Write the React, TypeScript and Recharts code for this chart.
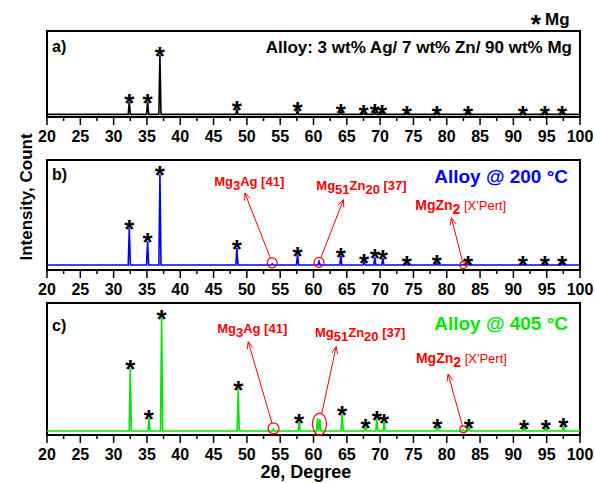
import React from 'react';
import { LineChart, Line, XAxis, YAxis, ReferenceArea, ReferenceDot, ReferenceLine } from 'recharts';

const FONT = '"Liberation Sans", Arial, Helvetica, sans-serif';

// 2θ axis ticks
const majorTicks = [20, 25, 30, 35, 40, 45, 50, 55, 60, 65, 70, 75, 80, 85, 90, 95, 100];
const minorTicks = [22.5, 27.5, 32.5, 37.5, 42.5, 47.5, 52.5, 57.5, 62.5, 67.5, 72.5, 77.5, 82.5, 87.5, 92.5, 97.5];

// a) as-cast alloy, Mg reflections
const mgPeaksA = [32.35, 35.1, 36.95, 48.5, 57.6, 64.1, 67.5, 69.2, 70.3, 74.0, 78.5, 83.2, 91.4, 94.7, 97.3];
const mgIntensityA = [17.8, 17.8, 72, 9.0, 8.7, 6.2, 4.7, 5.5, 4.7, 4.0, 4.0, 4.0, 3.5, 3.5, 4.0];
const baseA = 3;

// b) alloy @ 200 °C
const mgPeaksB = [32.35, 35.1, 36.95, 48.5, 57.6, 64.1, 67.6, 69.2, 70.4, 74.0, 78.5, 83.2, 91.4, 94.7, 97.3];
const mgIntensityB = [38.5, 26, 87, 20, 13.8, 13, 7, 11.4, 10.8, 5.5, 6, 5.5, 5.5, 5.2, 5.7];
const phasePeaksB = [53.8, 60.83, 82.5];
const phaseIntensityB = [5.5, 7.8, 5.0];
const baseB = 4.5;

// c) alloy @ 405 °C
const mgPeaksC = [32.5, 35.3, 37.2, 48.7, 57.85, 64.3, 67.8, 69.5, 70.6, 78.6, 83.3, 91.6, 94.85, 97.5];
const mgIntensityC = [50.5, 12.6, 89, 34.6, 10, 15.7, 6.3, 11.9, 10, 6.3, 5.8, 5, 5, 6.8];
const phasePeaksC = [54.0, 60.6, 60.95, 82.5];
const phaseIntensityC = [4.5, 12.6, 12.0, 3.8];
const baseC = 3;

// secondary phase annotations: [label, text x, text y, marked x, marked y, arrow tip x, arrow tip y]
const annotB = [
  ['Mg3Ag', 50.35, 76, 53.8, 6.5, 49.7, 70],
  ['Mg51Zn20', 67.2, 73, 60.83, 6.9, 64.5, 64],
  ['MgZn2', 82.1, 55, 82.5, 4.5, 80.7, 47.5],
];
const annotC = [
  ['Mg3Ag', 50.8, 77, 54.0, 5.0, 50.2, 70.7],
  ['Mg51Zn20', 67.0, 74.5, 60.9, 8.3, 63.4, 66.9],
  ['MgZn2', 82.2, 54.3, 82.5, 4.3, 80.2, 46.2],
];

type Part = { t: string; sub?: boolean; size?: number; weight?: string };
const labelParts: Record<string, Part[]> = {
  Mg3Ag: [{ t: 'Mg' }, { t: '3', sub: true }, { t: 'Ag [41]' }],
  Mg51Zn20: [{ t: 'Mg' }, { t: '51', sub: true }, { t: 'Zn' }, { t: '20', sub: true }, { t: ' [37]' }],
  MgZn2: [{ t: 'MgZn', size: 14 }, { t: '2', sub: true, size: 14 }, { t: " [X'Pert]", weight: 'normal', size: 13 }],
};
const markSize: Record<string, [number, number]> = { Mg3Ag: [5, 5], Mg51Zn20: [5, 5], MgZn2: [3.5, 3.5] };
const markSizeC: Record<string, [number, number]> = { Mg3Ag: [5.5, 5.5], Mg51Zn20: [7, 11], MgZn2: [3.5, 3.5] };

const HW = 0.16;
const RED = '#ff0000';

function buildTrace(base: number, pos: number[], inten: number[]) {
  const peaks = pos.map((p, i) => ({ p, h: inten[i] })).sort((a, b) => a.p - b.p);
  const pts = [{ x: 20, y: base }];
  peaks.forEach(({ p, h }) => {
    pts.push({ x: p - HW, y: base }, { x: p, y: h }, { x: p + HW, y: base });
  });
  pts.push({ x: 100, y: base });
  return pts;
}

const AxisTick = ({ x, y, payload }: any) => {
  const major = majorTicks.includes(payload.value);
  return (
    <g>
      <line x1={x} x2={x} y1={y} y2={y + (major ? 8 : 4)} stroke="#000" strokeWidth={1.5} />
      {major && (
        <text x={x} y={y + 25} textAnchor="middle" fontFamily={FONT} fontWeight="bold" fontSize={16} fill="#000">
          {payload.value}
        </text>
      )}
    </g>
  );
};

const StarShape = (p: any) => (
  <text x={p.cx} y={p.cy + 10} textAnchor="middle" fontFamily={FONT} fontWeight="bold" fontSize={26} fill="#000">
    *
  </text>
);

const makeLabel = (name: string) => (p: any) => {
  let shift = 0;
  return (
    <text x={p.cx} y={p.cy} textAnchor="middle" fontFamily={FONT} fontWeight="bold" fontSize={13} fill={RED}>
      {labelParts[name].map((part, i) => {
        const target = part.sub ? 4 : 0;
        const dy = target - shift;
        shift = target;
        return (
          <tspan key={i} dy={dy} fontSize={part.size} fontWeight={part.weight}>
            {part.t}
          </tspan>
        );
      })}
    </text>
  );
};

const makeMark = (rx: number, ry: number) => (p: any) => (
  <ellipse cx={p.cx} cy={p.cy} rx={rx} ry={ry} fill="none" stroke={RED} strokeWidth={1.2} />
);

const makeArrow = (rx: number, ry: number) => (p: any) => {
  const { x1, y1, x2, y2 } = p;
  const dx = x2 - x1;
  const dy = y2 - y1;
  const len = Math.hypot(dx, dy) || 1;
  const ux = dx / len;
  const uy = dy / len;
  const t = 1 / Math.sqrt((ux / rx) ** 2 + (uy / ry) ** 2);
  const sx = x1 + ux * t;
  const sy = y1 + uy * t;
  const bx = x2 - ux * 7;
  const by = y2 - uy * 7;
  const nx = -uy * 3;
  const ny = ux * 3;
  return (
    <g>
      <line x1={sx} y1={sy} x2={x2} y2={y2} stroke={RED} strokeWidth={1} />
      <polyline points={`${bx + nx},${by + ny} ${x2},${y2} ${bx - nx},${by - ny}`} fill="none" stroke={RED} strokeWidth={1} />
    </g>
  );
};

type PanelProps = {
  data: { x: number; y: number }[];
  color: string;
  starPos: number[];
  starInt: number[];
  top: number;
  bottom: number;
  annots?: (string | number)[][];
  sizes?: Record<string, [number, number]>;
};

const Panel = ({ data, color, starPos, starInt, top, bottom, annots = [], sizes = markSize }: PanelProps) => (
  <div style={{ position: 'absolute', left: 0, top: 0 }}>
    <LineChart width={595} height={483} data={data} margin={{ top, right: 15, left: 47, bottom: 483 - bottom - 30 }}>
      <XAxis
        dataKey="x"
        type="number"
        domain={[20, 100]}
        ticks={[...majorTicks, ...minorTicks].sort((a, b) => a - b)}
        interval={0}
        tickSize={0}
        tickMargin={0}
        axisLine={false}
        tickLine={false}
        tick={(p: any) => <AxisTick {...p} />}
        height={30}
      />
      <YAxis type="number" domain={[0, 100]} hide />
      <ReferenceArea x1={20} x2={100} y1={0} y2={100} fill="none" fillOpacity={0} stroke="#000" strokeWidth={2} strokeOpacity={1} />
      <Line dataKey="y" type="linear" stroke={color} strokeWidth={1.6} dot={false} isAnimationActive={false} />
      {starPos.map((s, i) => (
        <ReferenceDot key={`s${i}`} x={s} y={starInt[i]} r={1} shape={StarShape} ifOverflow="visible" />
      ))}
      {annots.map((a) => {
        const name = a[0] as string;
        const [rx, ry] = sizes[name];
        return (
          <React.Fragment key={name}>
            <ReferenceDot x={a[3] as number} y={a[4] as number} r={rx} shape={makeMark(rx, ry)} ifOverflow="visible" />
            <ReferenceLine
              segment={[
                { x: a[3] as number, y: a[4] as number },
                { x: a[5] as number, y: a[6] as number },
              ]}
              shape={makeArrow(rx, ry)}
              ifOverflow="visible"
            />
            <ReferenceDot x={a[1] as number} y={a[2] as number} r={1} shape={makeLabel(name)} ifOverflow="visible" />
          </React.Fragment>
        );
      })}
    </LineChart>
  </div>
);

export default function App() {
  const traceA = buildTrace(baseA, mgPeaksA, mgIntensityA);
  const traceB = buildTrace(baseB, [...mgPeaksB, ...phasePeaksB], [...mgIntensityB, ...phaseIntensityB]);
  const traceC = buildTrace(baseC, [...mgPeaksC, ...phasePeaksC], [...mgIntensityC, ...phaseIntensityC]);
  const txt = { fontFamily: FONT, fontWeight: 'bold' as const };
  return (
    <div style={{ position: 'absolute', left: 0, top: 0, width: 595, height: 483, background: '#fff' }}>
      <Panel data={traceA} color="#000" starPos={mgPeaksA} starInt={mgIntensityA} top={31} bottom={117} />
      <Panel data={traceB} color="#0000ff" starPos={mgPeaksB} starInt={mgIntensityB} top={160} bottom={270} annots={annotB} />
      <Panel
        data={traceC}
        color="#00e600"
        starPos={mgPeaksC}
        starInt={mgIntensityC}
        top={303}
        bottom={435}
        annots={annotC}
        sizes={markSizeC}
      />
      <svg width={595} height={483} style={{ position: 'absolute', left: 0, top: 0 }}>
        <text x={535.7} y={33} textAnchor="middle" {...txt} fontSize={26}>*</text>
        <text x={545} y={25} {...txt} fontSize={17}>Mg</text>
        <text x={52} y={52} {...txt} fontSize={16}>a)</text>
        <text x={52} y={180} {...txt} fontSize={16}>b)</text>
        <text x={52} y={331} {...txt} fontSize={16}>c)</text>
        <text x={572} y={53} textAnchor="end" {...txt} fontSize={17}>Alloy: 3 wt% Ag/ 7 wt% Zn/ 90 wt% Mg</text>
        <text x={568} y={183} textAnchor="end" {...txt} fontSize={19} fill="#0000ff">Alloy @ 200 °C</text>
        <text x={568} y={330} textAnchor="end" {...txt} fontSize={19} fill="#00e600">Alloy @ 405 °C</text>
        <text transform="rotate(-90)" x={-197} y={32} textAnchor="middle" {...txt} fontSize={17}>Intensity, Count</text>
        <text x={306} y={478} textAnchor="middle" {...txt} fontSize={18}>2θ, Degree</text>
      </svg>
    </div>
  );
}
